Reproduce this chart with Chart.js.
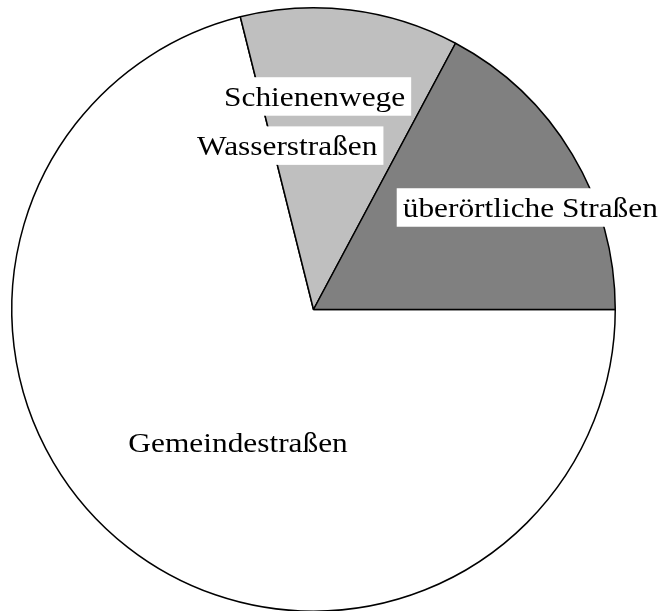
<!DOCTYPE html>
<html>
<head>
<meta charset="utf-8">
<script src="https://cdn.jsdelivr.net/npm/chart.js@4.4.1/dist/chart.umd.min.js"></script>
<style>
    html, body { margin: 0; padding: 0; background: #fff; overflow: hidden; }
    #wrap { position: absolute; left: 0; top: 0; width: 664px; height: 620px; }
</style>
</head>
<body>
<div id="wrap"><canvas id="pieChart" width="664" height="620"></canvas></div>
<script>
// Slices, clockwise from 3 o'clock (values in percent)
const categories = ['Gemeindestraßen', 'Wasserstraßen', 'Schienenwege', 'überörtliche Straßen'];
const shares = [71.1, 0, 11.7, 17.2];
const sliceColors = ['#ffffff', '#bfbfbf', '#bfbfbf', '#808080'];

// Label placement: [angle in degrees counter-clockwise from east, fraction of radius]
const labelPlacement = [[240.4, 0.506], [99.1, 0.55], [89.7, 0.706], [25.2, 0.794]];

const labelFont = '28px "Liberation Serif", "DejaVu Serif", serif';
const stretchX = 1.12;

// Draws the slice names in white boxes
const boxLabels = {
    id: 'boxLabels',
    afterDraw(chart) {
        const arc = chart.getDatasetMeta(0).data[0];
        if (!arc) return;
        const cx = arc.x, cy = arc.y, R = arc.outerRadius;
        const ctx = chart.ctx;
        ctx.save();
        ctx.font = labelFont;
        ctx.textBaseline = 'alphabetic';
        ctx.textAlign = 'center';
        categories.forEach((name, i) => {
            const [deg, f] = labelPlacement[i];
            const a = deg * Math.PI / 180;
            const x = cx + f * R * Math.cos(a);
            const y = cy - f * R * Math.sin(a);
            const w = ctx.measureText(name).width * stretchX;
            ctx.fillStyle = '#ffffff';
            ctx.fillRect(x - w / 2 - 6, y - 19.25, w + 12, 38.5);
            ctx.fillStyle = '#000000';
            ctx.save();
            ctx.translate(x, y + 9.75);
            ctx.scale(stretchX, 1);
            ctx.fillText(name, 0, 0);
            ctx.restore();
        });
        ctx.restore();
    }
};

function initChart() {
    const ctx = document.getElementById('pieChart').getContext('2d');
    new Chart(ctx, {
        type: 'pie',
        data: {
            labels: categories,
            datasets: [{
                data: shares,
                backgroundColor: sliceColors,
                borderColor: '#000000',
                borderWidth: 1.5,
                borderAlign: 'center'
            }]
        },
        options: {
            responsive: false,
            animation: false,
            rotation: 90,
            layout: { padding: { left: 11, right: 48, top: 7, bottom: 8 } },
            plugins: {
                legend: { display: false },
                tooltip: { enabled: false }
            }
        },
        plugins: [boxLabels]
    });
}

document.addEventListener('DOMContentLoaded', initChart);
</script>
</body>
</html>
